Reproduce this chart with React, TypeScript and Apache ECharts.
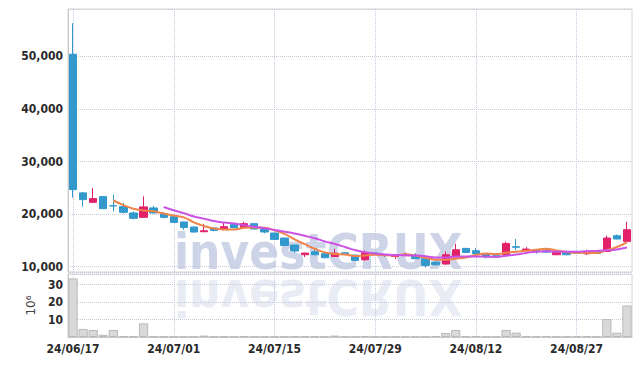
import React, { useEffect, useRef } from "react";
import * as echarts from "echarts";

const dates: string[] = [
  "24/06/17", "24/06/18", "24/06/19", "24/06/20", "24/06/21", "24/06/24", "24/06/25", "24/06/26", "24/06/27", "24/06/28",
  "24/07/01", "24/07/02", "24/07/03", "24/07/04", "24/07/05", "24/07/08", "24/07/09", "24/07/10", "24/07/11", "24/07/12",
  "24/07/15", "24/07/16", "24/07/17", "24/07/18", "24/07/19", "24/07/22", "24/07/23", "24/07/24", "24/07/25", "24/07/26",
  "24/07/29", "24/07/30", "24/07/31", "24/08/01", "24/08/02", "24/08/05", "24/08/06", "24/08/07", "24/08/08", "24/08/09",
  "24/08/12", "24/08/13", "24/08/14", "24/08/16", "24/08/19", "24/08/20", "24/08/21", "24/08/22", "24/08/23", "24/08/26",
  "24/08/27", "24/08/28", "24/08/29", "24/08/30", "24/09/02", "24/09/03",
];

// [open, close, low, high]
const ohlc: number[][] = [
  [50400, 24660, 23140, 56290],
  [24040, 22760, 21430, 24200],
  [22240, 22950, 22200, 24990],
  [23330, 21040, 21000, 23450],
  [21600, 21550, 20530, 23710],
  [21430, 20340, 20090, 22130],
  [20230, 19200, 19000, 20530],
  [19390, 21370, 19350, 23390],
  [21180, 20230, 20090, 21560],
  [20090, 19390, 19200, 20410],
  [19520, 18430, 18400, 19600],
  [18510, 17480, 17000, 18600],
  [17560, 16600, 16500, 17600],
  [16650, 16850, 16600, 18170],
  [17370, 16910, 16720, 17400],
  [17180, 17620, 16900, 18510],
  [18050, 17430, 17300, 18200],
  [17430, 18190, 17170, 18570],
  [18190, 17170, 17100, 18300],
  [17370, 16600, 16340, 17400],
  [16410, 15200, 15100, 16500],
  [15460, 14050, 13900, 15500],
  [14130, 12990, 12660, 14200],
  [12280, 12600, 11840, 12650],
  [12850, 12280, 12200, 13230],
  [12470, 11710, 11600, 12500],
  [11960, 12580, 11900, 13420],
  [12650, 12450, 12400, 12700],
  [12220, 11200, 11090, 12250],
  [11330, 12720, 11140, 13100],
  [12600, 12400, 12350, 12700],
  [12280, 12150, 11850, 12300],
  [11960, 12280, 11460, 12350],
  [12100, 12280, 12050, 12720],
  [11960, 11520, 11500, 12600],
  [11520, 10250, 9870, 11550],
  [10890, 10380, 10250, 11000],
  [10510, 12280, 10400, 12910],
  [11840, 13230, 11800, 14380],
  [13480, 12720, 12700, 13600],
  [13040, 12470, 12450, 13540],
  [12470, 11840, 11580, 12500],
  [12090, 11840, 11800, 12410],
  [12280, 14430, 12250, 14760],
  [13800, 13700, 13100, 15270],
  [13040, 13360, 13000, 13730],
  [13230, 12850, 12470, 13300],
  [13040, 12780, 12600, 13480],
  [12280, 12720, 12220, 12750],
  [12910, 12280, 12200, 13000],
  [12910, 12600, 12500, 13000],
  [12470, 12910, 12220, 13230],
  [12910, 12530, 12400, 13000],
  [12910, 15460, 12900, 15900],
  [15900, 15270, 15200, 16150],
  [14820, 17040, 14800, 18560],
];

// volume in millions of shares
const volume: number[] = [
  33.5, 4.6, 4.0, 1.3, 4.0, 0.4, 0.4, 7.8, 0.3, 0.3,
  0.2, 0.2, 0.2, 0.8, 0.2, 0.4, 0.2, 0.4, 0.2, 0.2,
  0.2, 0.2, 0.4, 0.4, 0.4, 0.2, 0.8, 0.2, 0.2, 0.5,
  0.2, 0.2, 0.2, 0.2, 0.2, 0.2, 0.5, 2.3, 4.0, 0.5,
  0.5, 0.2, 0.2, 4.0, 2.5, 0.5, 0.5, 0.5, 0.2, 0.2,
  0.5, 0.5, 0.2, 10.2, 2.5, 18.0,
];

const priceTicks = { min: 9000, max: 59000 };
const volumeTicks = { min: 0, max: 36, interval: 10 };
const volumeUnit = "10⁶";
const watermark = "investCRUX";

function movingAverage(n: number): (number | string)[] {
  const out: (number | string)[] = [];
  for (let i = 0; i < ohlc.length; i++) {
    if (i < n - 1) {
      out.push("-");
      continue;
    }
    let s = 0;
    for (let j = i - n + 1; j <= i; j++) s += ohlc[j][1];
    out.push(Math.round(s / n));
  }
  return out;
}

const FONT = "DejaVu Sans Condensed";
const UP = "#e3216b";
const DOWN = "#3399cc";

export default function App() {
  const ref = useRef<HTMLDivElement>(null);
  useEffect(() => {
    if (!ref.current) return;
    const chart = echarts.init(ref.current, undefined, { renderer: "svg" });
    const labelStyle = { fontFamily: FONT, fontSize: 12, fontWeight: "bold" as const, color: "#2a2a2a" };
    const wmStyle = {
      text: watermark,
      fontFamily: "DejaVu Sans Condensed",
      fontWeight: "bold",
      fontSize: 49,
      verticalAlign: "middle",
      align: "left",
    };
    chart.setOption({
      animation: false,
      backgroundColor: "#fff",
      grid: [
        { left: 68, top: 9, right: 10, height: 263, show: true, borderColor: "#d4d4d4", borderWidth: 1, containLabel: false },
        { left: 68, top: 274, right: 10, height: 63, show: true, borderColor: "#d4d4d4", borderWidth: 1, containLabel: false },
      ],
      graphic: [
        {
          type: "text",
          z: -10,
          x: 174,
          y: 252,
          silent: true,
          style: { ...wmStyle, fill: "#cdd4e8" },
        },
        {
          type: "text",
          z: -10,
          x: 174,
          y: 296,
          scaleY: -1,
          silent: true,
          style: { ...wmStyle, fill: "#e9ecf5" },
        },
      ],
      xAxis: [
        {
          type: "category",
          gridIndex: 0,
          data: dates,
          boundaryGap: true,
          axisLine: { show: false },
          axisTick: { show: false },
          axisLabel: { show: false },
          splitLine: { show: true, interval: 9, alignWithLabel: true, lineStyle: { type: "dotted", color: "#c3c8de" } },
        },
        {
          type: "category",
          gridIndex: 1,
          data: dates,
          boundaryGap: true,
          axisLine: { show: true, lineStyle: { color: "#c8c8c8" } },
          axisTick: { show: false },
          axisLabel: { show: true, interval: 9, margin: 6, ...labelStyle },
          splitLine: { show: true, interval: 9, alignWithLabel: true, lineStyle: { type: "dotted", color: "#c3c8de" } },
        },
      ],
      yAxis: [
        {
          type: "value",
          gridIndex: 0,
          min: priceTicks.min,
          max: priceTicks.max,
          splitNumber: 5,
          axisLine: { show: true, lineStyle: { color: "#c8c8c8" } },
          axisTick: { show: false },
          axisLabel: {
            ...labelStyle,
            margin: 5,
            showMinLabel: false,
            showMaxLabel: false,
            formatter: (v: number) => v.toLocaleString("en-US"),
          },
          splitLine: { show: true, lineStyle: { type: "dotted", color: "#c6c9d8" } },
        },
        {
          type: "value",
          gridIndex: 1,
          min: volumeTicks.min,
          max: volumeTicks.max,
          interval: volumeTicks.interval,
          name: volumeUnit,
          nameLocation: "middle",
          nameRotate: 90,
          nameGap: 30,
          nameTextStyle: { fontFamily: "DejaVu Sans", fontSize: 12, color: "#444" },
          axisLine: { show: true, lineStyle: { color: "#c8c8c8" } },
          axisTick: { show: false },
          axisLabel: { ...labelStyle, margin: 5, showMinLabel: false, showMaxLabel: false },
          splitLine: { show: true, lineStyle: { type: "dotted", color: "#c6c9d8" } },
        },
      ],
      series: [
        {
          type: "candlestick",
          xAxisIndex: 0,
          yAxisIndex: 0,
          data: ohlc,
          barWidth: "78%",
          itemStyle: { color: UP, color0: DOWN, borderColor: UP, borderColor0: DOWN, borderWidth: 1 },
        },
        {
          type: "line",
          xAxisIndex: 0,
          yAxisIndex: 0,
          data: movingAverage(5),
          smooth: true,
          showSymbol: false,
          lineStyle: { color: "#ee8448", width: 2 },
          z: 3,
        },
        {
          type: "line",
          xAxisIndex: 0,
          yAxisIndex: 0,
          data: movingAverage(10),
          smooth: true,
          showSymbol: false,
          lineStyle: { color: "#cc52e4", width: 2 },
          z: 3,
        },
        {
          type: "bar",
          xAxisIndex: 1,
          yAxisIndex: 1,
          data: volume,
          barCategoryGap: "8%",
          itemStyle: { color: "#d9d9d9", borderColor: "#b9b9b9", borderWidth: 1 },
        },
      ],
    });
    return () => chart.dispose();
  }, []);
  return <div ref={ref} style={{ position: "fixed", left: 0, top: 0, width: 642, height: 366 }} />;
}
